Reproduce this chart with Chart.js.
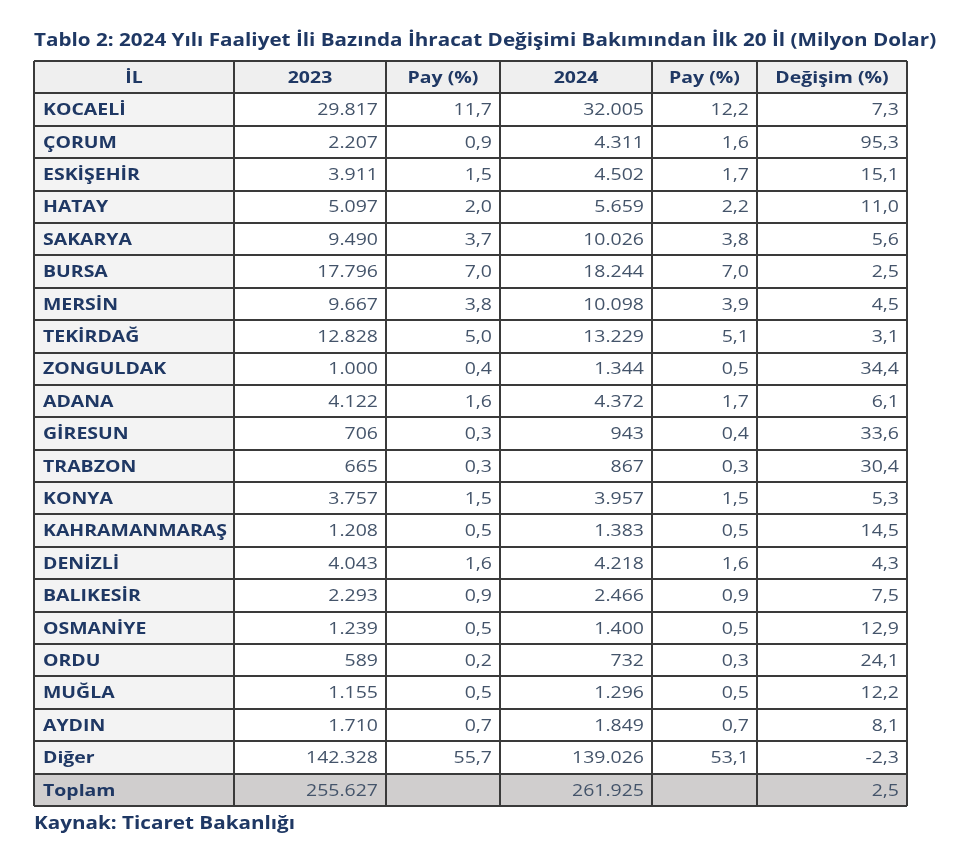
<!DOCTYPE html>
<html lang="tr">
<head>
<meta charset="utf-8">
<script src="https://cdn.jsdelivr.net/npm/chart.js@4.4.1/dist/chart.umd.min.js"></script>
<style>
  html, body { margin: 0; padding: 0; background: #ffffff; }
  #kutu { width: 954px; height: 853px; }
</style>
</head>
<body>
<div id="kutu"><canvas id="tablo"></canvas></div>
<script>
// veriler
const baslik = 'Tablo 2: 2024 Yılı Faaliyet İli Bazında İhracat Değişimi Bakımından İlk 20 İl (Milyon Dolar)';
const kaynak = 'Kaynak: Ticaret Bakanlığı';
const sutunlar = ['İL', '2023', 'Pay (%)', '2024', 'Pay (%)', 'Değişim (%)'];
const iller = ['KOCAELİ', 'ÇORUM', 'ESKİŞEHİR', 'HATAY', 'SAKARYA', 'BURSA', 'MERSİN', 'TEKİRDAĞ',
  'ZONGULDAK', 'ADANA', 'GİRESUN', 'TRABZON', 'KONYA', 'KAHRAMANMARAŞ', 'DENİZLİ', 'BALIKESİR',
  'OSMANİYE', 'ORDU', 'MUĞLA', 'AYDIN', 'Diğer', 'Toplam'];
const ihracat2023 = [29817, 2207, 3911, 5097, 9490, 17796, 9667, 12828, 1000, 4122, 706, 665, 3757,
  1208, 4043, 2293, 1239, 589, 1155, 1710, 142328, 255627];
const pay2023 = [11.7, 0.9, 1.5, 2.0, 3.7, 7.0, 3.8, 5.0, 0.4, 1.6, 0.3, 0.3, 1.5, 0.5, 1.6, 0.9,
  0.5, 0.2, 0.5, 0.7, 55.7, null];
const ihracat2024 = [32005, 4311, 4502, 5659, 10026, 18244, 10098, 13229, 1344, 4372, 943, 867, 3957,
  1383, 4218, 2466, 1400, 732, 1296, 1849, 139026, 261925];
const pay2024 = [12.2, 1.6, 1.7, 2.2, 3.8, 7.0, 3.9, 5.1, 0.5, 1.7, 0.4, 0.3, 1.5, 0.5, 1.6, 0.9,
  0.5, 0.3, 0.5, 0.7, 53.1, null];
const degisim = [7.3, 95.3, 15.1, 11.0, 5.6, 2.5, 4.5, 3.1, 34.4, 6.1, 33.6, 30.4, 5.3, 14.5, 4.3,
  7.5, 12.9, 24.1, 12.2, 8.1, -2.3, 2.5];

// yerlesim (piksel)
const kenarlar = [34, 234, 386, 500, 652, 757, 907];
const LACIVERT = '#1f3864';
const SAYIRENK = '#44546a';
const CIZGI = '#3a3a3a';
const FONT = '"Open Sans", sans-serif';
const GENISLIK = 1.18; // yazilar yatayda biraz genis

function binlik(n) {
  return String(n).replace(/\B(?=(\d{3})+(?!\d))/g, '.');
}
function ondalik(n) {
  if (n === null) return '';
  return n.toFixed(1).replace('.', ',');
}

const satirlar = ['başlık'].concat(iller);
const hucreler = satirlar.map(function(ad, i) {
  if (i === 0) return sutunlar;
  const k = i - 1;
  return [ad, binlik(ihracat2023[k]), ondalik(pay2023[k]), binlik(ihracat2024[k]),
    ondalik(pay2024[k]), ondalik(degisim[k])];
});

function hucreRengi(satir, sutun) {
  if (satir === 0) return '#efefef';
  if (satirlar[satir] === 'Toplam') return '#d0cece';
  if (sutun === 0) return '#f3f3f3';
  return '#ffffff';
}

const veriSetleri = sutunlar.map(function(s, j) {
  return {
    label: s,
    data: satirlar.map(function() { return [kenarlar[j], kenarlar[j + 1]]; }),
    backgroundColor: satirlar.map(function(r, i) { return hucreRengi(i, j); }),
    borderWidth: 0,
    barPercentage: 1,
    categoryPercentage: 1,
    grouped: false
  };
});

function yaz(ctx, metin, x, y, hiza, font, renk) {
  ctx.save();
  ctx.font = font;
  ctx.fillStyle = renk;
  ctx.textBaseline = 'middle';
  ctx.translate(x, y);
  ctx.scale(GENISLIK, 1);
  const w = ctx.measureText(metin).width;
  let x0 = 0;
  if (hiza === 'center') x0 = -w / 2;
  if (hiza === 'right') x0 = -w;
  ctx.textAlign = 'left';
  ctx.fillText(metin, x0, 0);
  ctx.restore();
}

const yaziEklentisi = {
  id: 'yazilar',
  afterDraw(chart) {
    const ctx = chart.ctx;
    const xs = chart.scales.x;
    const ys = chart.scales.y;
    hucreler.forEach(function(satir, i) {
      const y = ys.getPixelForValue(i) + 1;
      satir.forEach(function(metin, j) {
        const sol = xs.getPixelForValue(kenarlar[j]);
        const sag = xs.getPixelForValue(kenarlar[j + 1]);
        if (i === 0) {
          yaz(ctx, metin, (sol + sag) / 2, y, 'center', 'bold 16.5px ' + FONT, LACIVERT);
        } else if (j === 0) {
          yaz(ctx, metin, sol + 9, y, 'left', 'bold 16.5px ' + FONT, LACIVERT);
        } else {
          yaz(ctx, metin, sag - 8, y, 'right', '16.5px ' + FONT, SAYIRENK);
        }
      });
    });
    yaz(ctx, baslik, 34, 41, 'left', 'bold 17.5px ' + FONT, LACIVERT);
    yaz(ctx, kaynak, 34, 824, 'left', 'bold 17.5px ' + FONT, LACIVERT);
  }
};

new Chart(document.getElementById('tablo').getContext('2d'), {
  type: 'bar',
  data: { labels: satirlar, datasets: veriSetleri },
  options: {
    indexAxis: 'y',
    responsive: true,
    maintainAspectRatio: false,
    animation: false,
    layout: { padding: { left: 34, right: 47, top: 61, bottom: 47 } },
    plugins: {
      legend: { display: false },
      tooltip: { enabled: false },
      title: { display: false }
    },
    scales: {
      x: {
        type: 'linear',
        min: kenarlar[0],
        max: kenarlar[kenarlar.length - 1],
        afterBuildTicks: function(axis) {
          axis.ticks = kenarlar.map(function(v) { return { value: v }; });
        },
        ticks: { display: false },
        grid: { color: CIZGI, lineWidth: 2, drawTicks: false, z: 1 },
        border: { display: false }
      },
      y: {
        type: 'category',
        ticks: { display: false },
        grid: { color: CIZGI, lineWidth: 2, drawTicks: false, offset: true, z: 1 },
        border: { display: false }
      }
    }
  },
  plugins: [yaziEklentisi]
});
</script>
</body>
</html>
